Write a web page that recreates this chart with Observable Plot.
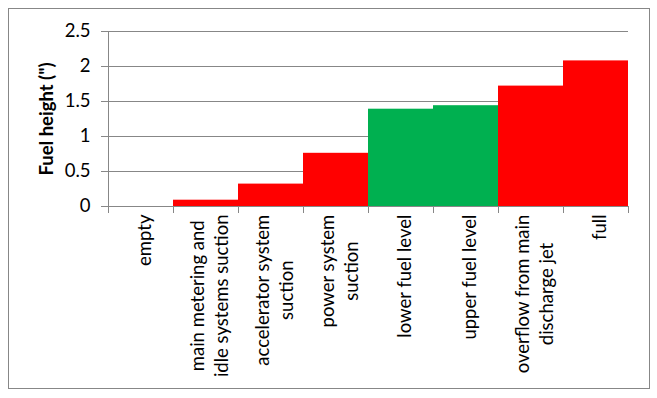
<!DOCTYPE html>
<html>
<head>
<meta charset="utf-8">
<script src="https://cdn.jsdelivr.net/npm/d3@7"></script>
<script src="https://cdn.jsdelivr.net/npm/@observablehq/plot@0.6"></script>
<style>
  html, body { margin: 0; padding: 0; background: #fff; }
  #wrap { position: relative; width: 657px; height: 398px; }
  #border { position: absolute; left: 8px; top: 8px; width: 640px; height: 379px; border: 1px solid #878787; pointer-events: none; }
</style>
</head>
<body>
<div id="wrap"><div id="border"></div></div>
<script>
// ---- data ----
const categories = [
  "empty",
  "main metering and idle systems suction",
  "accelerator system suction",
  "power system suction",
  "lower fuel level",
  "upper fuel level",
  "overflow from main discharge jet",
  "full"
];
const labelLines = [
  ["empty"],
  ["main metering and", "idle systems suction"],
  ["accelerator system", "suction"],
  ["power system", "suction"],
  ["lower fuel level"],
  ["upper fuel level"],
  ["overflow from main", "discharge jet"],
  ["full"]
];
const fuelHeight = [0, 0.09, 0.32, 0.76, 1.39, 1.44, 1.72, 2.08];
const status = ["fail", "fail", "fail", "fail", "level", "level", "fail", "fail"];
const yTicks = [0, 0.5, 1, 1.5, 2, 2.5];
const yTitle = "Fuel height (\")";

// ---- style ----
const FONT = "Lato";
const FS = 18.5;
const GREY = "#878787";

const rows = categories.map((c, i) => ({i, category: c, value: fuelHeight[i], status: status[i]}));

const ctx = document.createElement("canvas").getContext("2d");
ctx.font = `${FS}px ${FONT}`;
const labelMarks = labelLines.map((lines, i) => {
  const maxW = d3.max(lines, l => ctx.measureText(l).width);
  return Plot.text([i], {
    x: d => d + 0.5,
    frameAnchor: "bottom",
    text: () => lines.join("\n"),
    rotate: -90,
    textAnchor: "middle",
    lineAnchor: "middle",
    lineHeight: 24 / FS,
    dy: 8 + maxW / 2,
    dx: 2,
    fill: "black",
    fontSize: FS,
    fontFamily: FONT
  });
});

const chart = Plot.plot({
  width: 657,
  height: 398,
  marginLeft: 108,
  marginRight: 29,
  marginTop: 31,
  marginBottom: 192,
  style: {fontFamily: FONT, fontSize: FS + "px", background: "transparent", color: "black"},
  x: {type: "linear", domain: [0, categories.length], axis: null},
  y: {domain: [0, 2.5], axis: null},
  color: {domain: ["fail", "level"], range: ["#FF0000", "#00B050"]},
  marks: [
    Plot.ruleY(yTicks.filter(t => t > 0), {stroke: GREY}),
    Plot.axisY({ticks: yTicks, tickSize: 7, tickPadding: 11, stroke: GREY, fill: "black", tickFormat: d => String(d), label: null, fontSize: FS, fontFamily: FONT}),
    Plot.rectY(rows, {x1: "i", x2: d => d.i + 1, y: "value", fill: "status"}),
    Plot.ruleX([0], {stroke: GREY}),
    Plot.ruleY([0], {stroke: GREY}),
    Plot.axisX({ticks: d3.range(categories.length + 1), tickSize: 7, tickFormat: () => "", stroke: GREY, label: null}),
    ...labelMarks,
    Plot.text([yTitle], {frameAnchor: "left", text: d => d, dx: -61, rotate: -90, textAnchor: "middle", fontWeight: "bold", fill: "black", fontSize: FS, fontFamily: FONT})
  ]
});
document.getElementById("wrap").prepend(chart);
</script>
</body>
</html>
